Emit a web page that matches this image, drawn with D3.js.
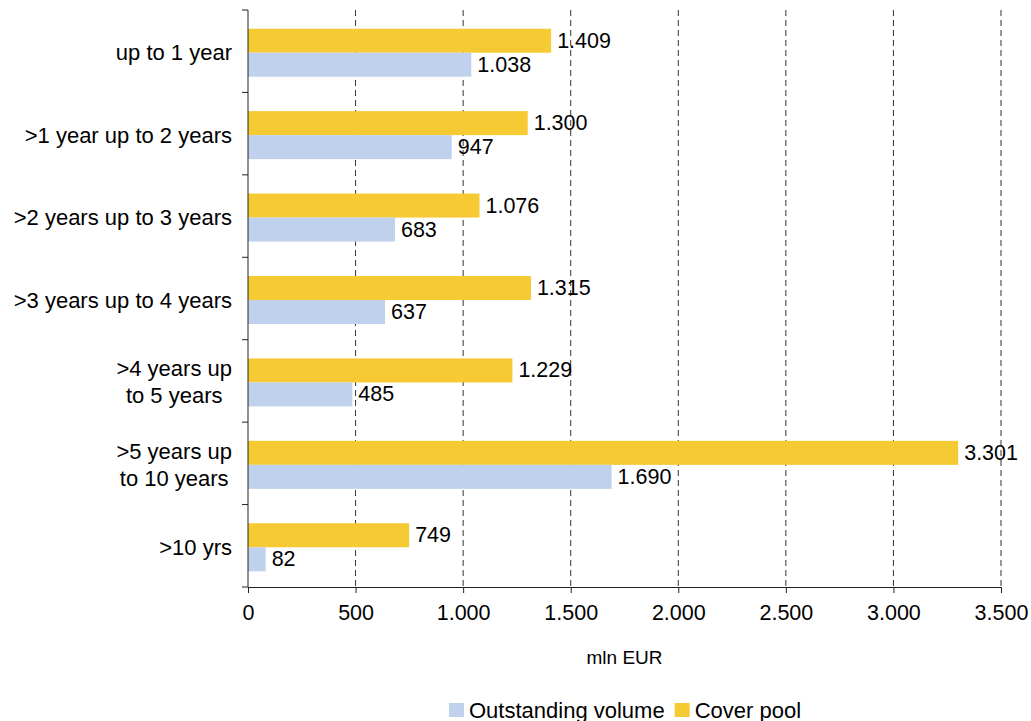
<!DOCTYPE html>
<html>
<head>
<meta charset="utf-8">
<script src="https://cdn.jsdelivr.net/npm/d3@7"></script>
<style>
  html, body { margin: 0; padding: 0; background: #fff; }
  text { font-family: Arial, "Liberation Sans", sans-serif; fill: #000; }
</style>
</head>
<body>
<svg id="chart" width="1031" height="721"></svg>
<script>
// Maturity buckets (label lines per category)
const categories = [
  ["up to 1 year"],
  [">1 year up to 2 years"],
  [">2 years up to 3 years"],
  [">3 years up to 4 years"],
  [">4 years up", "to 5 years"],
  [">5 years up", "to 10 years"],
  [">10 yrs"]
];
const coverPool = [1409, 1300, 1076, 1315, 1229, 3301, 749];
const outstandingVolume = [1038, 947, 683, 637, 485, 1690, 82];
const xTicks = [0, 500, 1000, 1500, 2000, 2500, 3000, 3500];
const seriesNames = ["Cover pool", "Outstanding volume"];
const legendNames = ["Outstanding volume", "Cover pool"];
const colors = { "Cover pool": "#F6CA32", "Outstanding volume": "#BFD1EC" };

const fmt = v => d3.format(",")(v).replace(/,/g, ".");

const svg = d3.select("#chart");
const plotLeft = 248, plotRight = 1001, plotTop = 10, plotBottom = 587;
const keys = categories.map((c, i) => "c" + i);

const x = d3.scaleLinear().domain([0, 3500]).range([plotLeft, plotRight]);
const y = d3.scaleBand().domain(keys).range([plotTop, plotBottom]).padding(0);
const yInner = d3.scaleBand().domain(seriesNames).range([0, y.bandwidth()]).paddingInner(0).paddingOuter(0.717);
const shift = 1.5;

// dashed vertical gridlines
svg.append("g").selectAll("line").data(xTicks.filter(t => t > 0)).join("line")
  .attr("x1", d => x(d)).attr("x2", d => x(d))
  .attr("y1", plotTop).attr("y2", plotBottom)
  .attr("stroke", "#333").attr("stroke-width", 1).attr("stroke-dasharray", "6,4");

// bars
const rows = categories.map((c, i) => ({ key: keys[i], values: { "Cover pool": coverPool[i], "Outstanding volume": outstandingVolume[i] } }));
const groups = svg.append("g").selectAll("g").data(rows).join("g")
  .attr("transform", d => `translate(0,${y(d.key) + shift})`);

groups.selectAll("rect").data(d => seriesNames.map(s => ({ s, v: d.values[s] }))).join("rect")
  .attr("x", x(0))
  .attr("y", d => yInner(d.s))
  .attr("width", d => x(d.v) - x(0))
  .attr("height", yInner.bandwidth())
  .attr("fill", d => colors[d.s]);

groups.selectAll("text").data(d => seriesNames.map(s => ({ s, v: d.values[s] }))).join("text")
  .attr("x", d => x(d.v) + 6)
  .attr("y", d => yInner(d.s) + yInner.bandwidth() / 2)
  .attr("dominant-baseline", "central")
  .style("font-size", "21.5px")
  .text(d => fmt(d.v));

// x axis
const xAxis = svg.append("g").attr("transform", `translate(0,${plotBottom})`)
  .call(d3.axisBottom(x).tickValues(xTicks).tickSize(6).tickSizeOuter(0).tickPadding(12).tickFormat(fmt));
xAxis.select(".domain").attr("stroke", "#222");
xAxis.selectAll(".tick line").attr("stroke", "#222");
xAxis.selectAll(".tick text").style("font-size", "21.5px").attr("font-family", null);

// y axis: ticks at band boundaries
svg.append("line").attr("x1", plotLeft).attr("x2", plotLeft).attr("y1", plotTop).attr("y2", plotBottom).attr("stroke", "#222");
const bounds = keys.map(k => y(k)).concat([plotBottom]);
svg.append("g").selectAll("line").data(bounds).join("line")
  .attr("x1", plotLeft - 6).attr("x2", plotLeft).attr("y1", d => d).attr("y2", d => d).attr("stroke", "#222");

// category labels
const labelRight = 232;
const catG = svg.append("g");
categories.forEach((lines, i) => {
  const cy = y(keys[i]) + y.bandwidth() / 2 + shift;
  const lh = 27;
  const texts = lines.map((line, j) => catG.append("text")
    .attr("y", cy + (j - (lines.length - 1) / 2) * lh)
    .attr("dominant-baseline", "central")
    .style("font-size", "22px")
    .text(line));
  const w = d3.max(texts, t => t.node().getComputedTextLength());
  texts.forEach(t => t.attr("x", labelRight - w / 2).attr("text-anchor", "middle"));
});

// axis title
svg.append("text").attr("x", (plotLeft + plotRight) / 2).attr("y", 657)
  .attr("text-anchor", "middle").attr("dominant-baseline", "central")
  .style("font-size", "19px").text("mln EUR");

// legend
const leg = svg.append("g");
let lx = 449;
legendNames.forEach(name => {
  leg.append("rect").attr("x", lx).attr("y", 703).attr("width", 15).attr("height", 14).attr("fill", colors[name]);
  const t = leg.append("text").attr("x", lx + 20).attr("y", 710)
    .attr("dominant-baseline", "central").style("font-size", "22px").text(name);
  lx += 20 + t.node().getComputedTextLength() + 10;
});
</script>
</body>
</html>
